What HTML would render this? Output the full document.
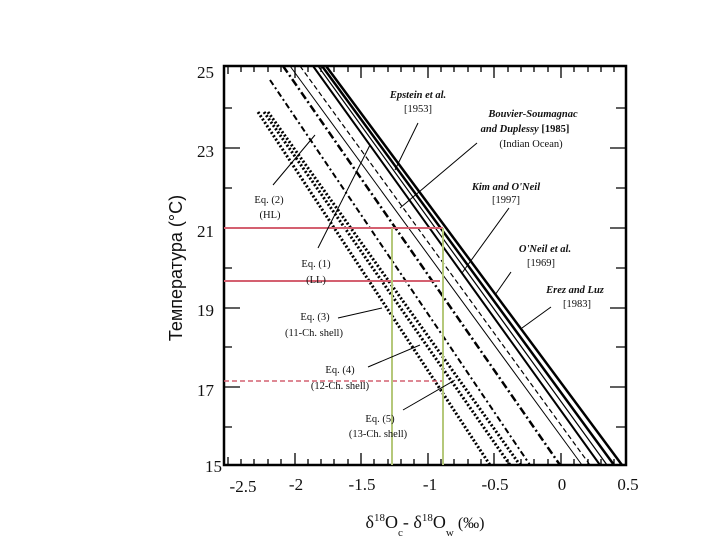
<!DOCTYPE html>
<html><head><meta charset="utf-8"><style>
html,body{margin:0;padding:0;background:#fff;}
svg{display:block;}
text{font-family:"Liberation Serif",serif;fill:#111;}
.a{font-size:10.5px;font-weight:bold;font-style:italic;}
.b{font-size:10.5px;}
</style></head><body>
<svg width="720" height="540" viewBox="0 0 720 540">
<rect x="224" y="66" width="402" height="399" fill="none" stroke="#000" stroke-width="2.5"/>
<g stroke="#000" stroke-width="1.3">
<path d="M228,465v-8M241,465v-6M254,465v-6M268,465v-6M281,465v-6M295,465v-12M308,465v-6M321,465v-6M334,465v-6M348,465v-6M361,465v-12M374,465v-6M388,465v-6M401,465v-6M414,465v-6M428,465v-12M441,465v-6M454,465v-6M468,465v-6M481,465v-6M494,465v-12M508,465v-6M521,465v-6M534,465v-6M548,465v-6M561,465v-12M574,465v-6M588,465v-6M601,465v-6M614,465v-6"/>
<path d="M228,66v8M241,66v6M254,66v6M268,66v6M281,66v6M295,66v12M308,66v6M321,66v6M334,66v6M348,66v6M361,66v12M374,66v6M388,66v6M401,66v6M414,66v6M428,66v12M441,66v6M454,66v6M468,66v6M481,66v6M494,66v12M508,66v6M521,66v6M534,66v6M548,66v6M561,66v12M574,66v6M588,66v6M601,66v6M614,66v6"/>
<path d="M224,148h16M224,188h8M224,228h16M224,268h8M224,308h16M224,347h8M224,387h16M224,427h8M224,108h8"/>
<path d="M626,108h-10M626,148h-16M626,188h-10M626,228h-16M626,268h-10M626,308h-16M626,347h-10M626,387h-16M626,427h-10"/>
</g>
<g stroke="#000" fill="none">
<line x1="313" y1="66" x2="600" y2="465" stroke-width="2"/>
<line x1="318" y1="66" x2="607" y2="465" stroke-width="1.2"/>
<line x1="322" y1="66" x2="614" y2="465" stroke-width="2.5"/>
<line x1="326" y1="66" x2="622" y2="465" stroke-width="2.5"/>
<line x1="290" y1="66" x2="582" y2="465" stroke-width="1"/>
<line x1="300" y1="66" x2="590" y2="465" stroke-width="1.2" stroke-dasharray="5,3"/>
<line x1="283" y1="66" x2="560" y2="465" stroke-width="2.5" stroke-dasharray="8,3,2,3"/>
<line x1="270" y1="80" x2="530" y2="465" stroke-width="2" stroke-dasharray="6,3,2,3"/>
<line x1="258" y1="112" x2="490" y2="465" stroke-width="3" stroke-dasharray="2,2"/>
<line x1="264" y1="112" x2="510" y2="465" stroke-width="3" stroke-dasharray="2,2"/>
<line x1="268" y1="112" x2="520" y2="465" stroke-width="3" stroke-dasharray="2,2"/>
</g>
<g stroke="#d46070" stroke-width="2">
<line x1="224" y1="228" x2="443" y2="228"/>
<line x1="224" y1="281" x2="440" y2="281"/>
<line x1="224" y1="381" x2="443" y2="381" stroke-dasharray="5,3" stroke-width="1.5"/>
</g>
<g stroke="#b5c87a" stroke-width="2">
<line x1="392" y1="228" x2="392" y2="465"/>
<line x1="443" y1="228" x2="443" y2="465"/>
</g>
<g stroke="#000" stroke-width="1">
<line x1="418" y1="123" x2="395" y2="170"/>
<line x1="477" y1="143" x2="400" y2="208"/>
<line x1="509" y1="208" x2="462" y2="273"/>
<line x1="511" y1="272" x2="495" y2="295"/>
<line x1="551" y1="307" x2="522" y2="328"/>
<line x1="273" y1="185" x2="315" y2="135"/>
<line x1="318" y1="248" x2="370" y2="145"/>
<line x1="338" y1="318" x2="382" y2="308"/>
<line x1="368" y1="367" x2="420" y2="345"/>
<line x1="403" y1="410" x2="455" y2="380"/>
</g>
<g text-anchor="middle">
<text class="a" x="418" y="98">Epstein et al.</text>
<text class="b" x="418" y="112">[1953]</text>
<text class="a" x="533" y="117">Bouvier-Soumagnac</text>
<text class="a" x="525" y="132"><tspan>and Duplessy</tspan><tspan font-style="normal"> [1985]</tspan></text>
<text class="b" x="531" y="147">(Indian Ocean)</text>
<text class="a" x="506" y="190">Kim and O'Neil</text>
<text class="b" x="506" y="203">[1997]</text>
<text class="a" x="545" y="252">O'Neil et al.</text>
<text class="b" x="541" y="266">[1969]</text>
<text class="a" x="575" y="293">Erez and Luz</text>
<text class="b" x="577" y="307">[1983]</text>
<text class="b" x="269" y="203">Eq. (2)</text>
<text class="b" x="270" y="218">(HL)</text>
<text class="b" x="316" y="267">Eq. (1)</text>
<text class="b" x="316" y="283">(LL)</text>
<text class="b" x="315" y="320">Eq. (3)</text>
<text class="b" x="314" y="336">(11-Ch. shell)</text>
<text class="b" x="340" y="373">Eq. (4)</text>
<text class="b" x="340" y="389">(12-Ch. shell)</text>
<text class="b" x="380" y="422">Eq. (5)</text>
<text class="b" x="378" y="437">(13-Ch. shell)</text>
</g>
<g font-size="17" text-anchor="end">
<text x="214" y="78">25</text>
<text x="214" y="157">23</text>
<text x="214" y="237">21</text>
<text x="214" y="316">19</text>
<text x="214" y="396">17</text>
<text x="222" y="472">15</text>
</g>
<g font-size="17" text-anchor="middle">
<text x="243" y="492">-2.5</text>
<text x="296" y="490">-2</text>
<text x="362" y="490">-1.5</text>
<text x="430" y="490">-1</text>
<text x="495" y="490">-0.5</text>
<text x="562" y="490">0</text>
<text x="628" y="490">0.5</text>
</g>
<text x="425" y="528" font-size="18" text-anchor="middle">δ<tspan font-size="11" dy="-7">18</tspan><tspan dy="7">O</tspan><tspan font-size="11" dy="8">c</tspan><tspan dy="-8">- δ</tspan><tspan font-size="11" dy="-7">18</tspan><tspan dy="7">O</tspan><tspan font-size="11" dy="8">w</tspan><tspan dy="-8" font-size="16"> (‰)</tspan></text>
<text transform="translate(182,268) rotate(-90)" text-anchor="middle" font-size="18" style="font-family:'Liberation Sans',sans-serif">Температура (°C)</text>
</svg>
</body></html>
